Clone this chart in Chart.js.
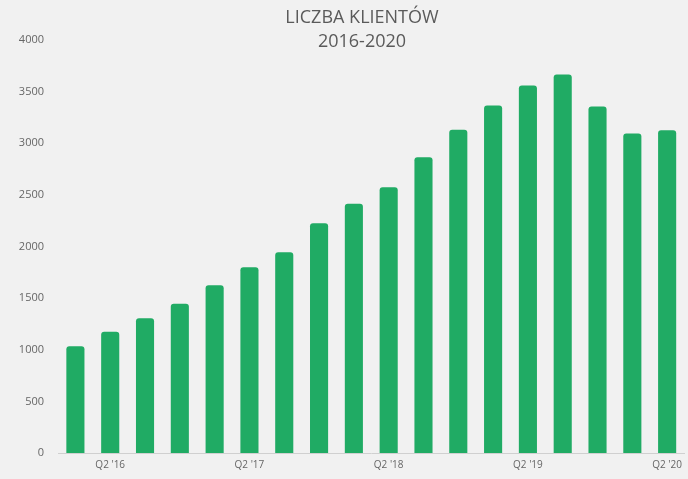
<!DOCTYPE html>
<html>
<head>
<meta charset="utf-8">
<script src="https://cdn.jsdelivr.net/npm/chart.js@4/dist/chart.umd.min.js"></script>
<style>
html,body{margin:0;padding:0;background:#f1f1f1;}
#wrap{width:688px;height:479px;position:relative;}
</style>
</head>
<body>
<div id="wrap"><canvas id="c" width="688" height="479"></canvas></div>
<script>
const categories = ["Q1 '16","Q2 '16","Q3 '16","Q4 '16","Q1 '17","Q2 '17","Q3 '17","Q4 '17","Q1 '18","Q2 '18","Q3 '18","Q4 '18","Q1 '19","Q2 '19","Q3 '19","Q4 '19","Q1 '20","Q2 '20"];
const clients = [1035,1175,1305,1445,1625,1800,1945,2225,2415,2575,2865,3130,3365,3560,3665,3355,3095,3125];
const shownTicks = ["Q2 '16","Q2 '17","Q2 '18","Q2 '19","Q2 '20"];
const titleLines = ["LICZBA KLIENTÓW","2016-2020"];

const titlePlugin = {
  id:'customTitle',
  afterDraw(chart){
    const ctx = chart.ctx;
    ctx.save();
    ctx.fillStyle = '#5a5a5a';
    ctx.font = '18px "Open Sans", Lato, sans-serif';
    ctx.textAlign = 'center';
    ctx.textBaseline = 'middle';
    ctx.fillText(titleLines[0], 362, 18);
    ctx.fillText(titleLines[1], 362, 42);
    ctx.restore();
  }
};
const bgPlugin = {
  id:'bg',
  beforeDraw(chart){
    const ctx=chart.ctx; ctx.save(); ctx.fillStyle='#f1f1f1'; ctx.fillRect(0,0,chart.width,chart.height); ctx.restore();
  }
};

new Chart(document.getElementById('c'), {
  type:'bar',
  data:{
    labels: categories,
    datasets:[{
      data: clients,
      backgroundColor:'#20ab64',
      borderRadius:3,
      borderSkipped:'bottom',
      categoryPercentage:1,
      barPercentage:0.52
    }]
  },
  options:{
    responsive:false,
    animation:false,
    layout:{padding:{top:40,right:0,left:0,bottom:0}},
    plugins:{legend:{display:false},tooltip:{enabled:false},title:{display:false}},
    scales:{
      x:{
        grid:{display:false,drawTicks:false},
        border:{display:true,color:'#d0d0d0',width:1},
        ticks:{
          autoSkip:false, maxRotation:0, color:'#666', padding:6,
          font:{family:'"Open Sans", Lato, sans-serif',size:10},
          callback:function(v,i){ const l=categories[i]; return shownTicks.includes(l)? l : ''; }
        },
        afterFit(s){ s.height = 26; }
      },
      y:{
        min:0,max:4000,
        grid:{display:false,drawTicks:false},
        border:{display:false},
        ticks:{stepSize:500,color:'#666',padding:14,font:{family:'"Open Sans", Lato, sans-serif',size:11},
          callback:function(v){ return String(v); }},
        afterFit(s){ s.width = 58; }
      }
    }
  },
  plugins:[bgPlugin,titlePlugin]
});
</script>
</body>
</html>
